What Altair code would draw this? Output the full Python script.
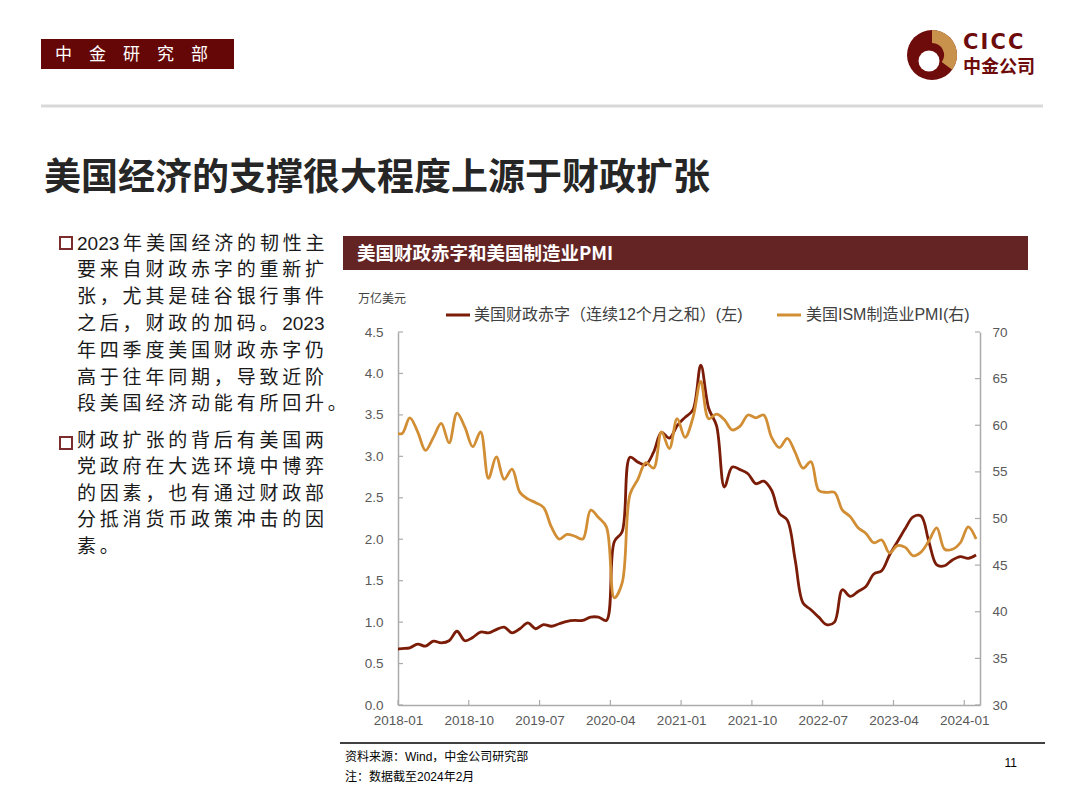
import altair as alt
import pandas as pd

# ---------------- data ----------------
months = ["2017-12"] + [f"{y}-{m:02d}" for y in range(2018, 2025) for m in range(1, 13)][:74]

deficit = [0.67,
           0.68, 0.69, 0.735, 0.71, 0.77, 0.75, 0.775, 0.89, 0.775, 0.815, 0.88, 0.87,
           0.91, 0.94, 0.87, 0.92, 0.99, 0.92, 0.97, 0.95, 0.98, 1.01, 1.02, 1.02,
           1.06, 1.06, 1.02, 1.97, 2.09, 2.99, 2.93, 2.90, 3.05, 3.29, 3.22, 3.37,
           3.47, 3.56, 4.10, 3.58, 3.37, 2.63, 2.87, 2.84, 2.79, 2.67, 2.70, 2.59,
           2.31, 2.23, 1.75, 1.23, 1.15, 1.06, 0.97, 1.00, 1.39, 1.31, 1.37, 1.43,
           1.58, 1.62, 1.81, 1.97, 2.13, 2.27, 2.28, 1.97, 1.69, 1.68, 1.75, 1.79,
           1.77, 1.81]

pmi = [59.3,
       59.1, 60.8, 59.3, 57.3, 58.7, 60.2, 58.1, 61.3, 59.8, 57.7, 59.3, 54.3,
       56.6, 54.2, 55.3, 52.8, 52.1, 51.7, 51.2, 49.1, 47.8, 48.3, 48.1, 47.8,
       50.9, 50.1, 49.1, 41.5, 43.1, 52.6, 54.2, 56.0, 55.4, 59.3, 57.5, 60.7,
       58.7, 60.8, 64.7, 60.7, 61.2, 60.6, 59.5, 59.9, 61.1, 60.8, 61.1, 58.7,
       57.6, 58.6, 57.1, 55.4, 56.1, 53.0, 52.8, 52.8, 50.9, 50.2, 49.0, 48.4,
       47.4, 47.7, 46.3, 47.1, 46.9, 46.0, 46.4, 47.6, 49.0, 46.7, 46.7, 47.4,
       49.1, 47.8]

tick_labels = ["2018-01", "2018-10", "2019-07", "2020-04", "2021-01",
               "2021-10", "2022-07", "2023-04", "2024-01"]
left_ticks = [0.0, 0.5, 1.0, 1.5, 2.0, 2.5, 3.0, 3.5, 4.0, 4.5]
right_ticks = [30, 35, 40, 45, 50, 55, 60, 65, 70]

series_names = ["美国财政赤字（连续12个月之和）(左)", "美国ISM制造业PMI(右)"]
unit_label = "万亿美元"
panel_title = "美国财政赤字和美国制造业PMI"
slide_title = "美国经济的支撑很大程度上源于财政扩张"
header_label = "中\u3000金\u3000研\u3000究\u3000部"
bullet1 = ["2023年美国经济的韧性主", "要来自财政赤字的重新扩", "张，尤其是硅谷银行事件",
           "之后，财政的加码。2023", "年四季度美国财政赤字仍", "高于往年同期，导致近阶",
           "段美国经济动能有所回升。"]
bullet2 = ["财政扩张的背后有美国两", "党政府在大选环境中博弈", "的因素，也有通过财政部",
           "分抵消货币政策冲击的因", "素。"]
source_note = "资料来源：Wind，中金公司研究部"
date_note = "注：数据截至2024年2月"
page_no = "11"

# ---------------- helpers ----------------
def month_pos(s):
    y, m = s.split("-")
    return (int(y) - 2018) * 12 + int(m) - 1 + 0.5

def tick_pos(s):
    y, m = s.split("-")
    return (int(y) - 2018) * 12 + int(m) - 1

def spaced(s):
    out = ""
    for i, ch in enumerate(s):
        out += ch
        if i < len(s) - 1 and not (ch.isascii() and s[i + 1].isascii()):
            out += "\u2009"
    return out

df = pd.DataFrame({"month": months, "t": [month_pos(s) for s in months],
                   "deficit": deficit, "pmi": pmi})
xt = pd.DataFrame({"t": [tick_pos(s) for s in tick_labels]})
lt = pd.DataFrame({"v": left_ticks})
rt = pd.DataFrame({"v": right_ticks})
one = pd.DataFrame({"k": [0]})

W, H = 582, 373
OX, OY = 398, 332
def px(x): return x - OX
def py(y): return y - OY

FONT = "Liberation Sans, Noto Sans CJK SC, sans-serif"
CJK = "Noto Sans CJK SC, Liberation Sans, sans-serif"
RED = "#7A1C07"
GOLD = "#D18E34"
AXIS_GREY = "#ABABAB"
LABEL_GREY = "#595959"

label_expr = "[" + ",".join(f"'{s}'" for s in tick_labels) + "][round(datum.value/9)]"
xscale = alt.Scale(domain=[0, 74], nice=False, zero=False)
xaxis = alt.Axis(values=[tick_pos(s) for s in tick_labels], labelExpr=label_expr,
                 title=None, grid=False, tickSize=0, domainColor=AXIS_GREY,
                 domainWidth=1.5, labelFont=FONT, labelFontSize=13.5,
                 labelColor=LABEL_GREY, labelPadding=8, labelOverlap=False,
                 labelFlush=False, labelBound=False)
x_enc = alt.X("t:Q", scale=xscale, axis=xaxis)

lscale = alt.Scale(domain=[0, 4.5], nice=False, zero=False)
rscale = alt.Scale(domain=[30, 70], nice=False, zero=False)

deficit_line = alt.Chart(df).mark_line(
    color=RED, strokeWidth=2.8, interpolate="catmull-rom", clip=True
).encode(
    x=x_enc,
    y=alt.Y("deficit:Q", scale=lscale,
            axis=alt.Axis(orient="left", values=left_ticks, format=".1f", title=None,
                          grid=False, tickSize=0, domainColor=AXIS_GREY, domainWidth=1.5,
                          labelFont=FONT, labelFontSize=13.5, labelColor=LABEL_GREY,
                          labelPadding=15, labelOverlap=False, labelFlush=False))
)

pmi_line = alt.Chart(df).mark_line(
    color=GOLD, strokeWidth=2.8, interpolate="catmull-rom", clip=True
).encode(
    x=x_enc,
    y=alt.Y("pmi:Q", scale=rscale,
            axis=alt.Axis(orient="right", values=right_ticks, format="d", title=None,
                          grid=False, tickSize=0, domainColor=AXIS_GREY, domainWidth=1.5,
                          labelFont=FONT, labelFontSize=13.5, labelColor=LABEL_GREY,
                          labelPadding=12, labelOverlap=False, labelFlush=False))
)

# inward ticks
x_ticks = alt.Chart(xt).mark_rule(color=AXIS_GREY, strokeWidth=1.2).encode(
    x=x_enc, y=alt.value(H), y2=alt.value(H - 5))
l_ticks = alt.Chart(lt).mark_rule(color=AXIS_GREY, strokeWidth=1.2).encode(
    y=alt.Y("v:Q", scale=lscale, axis=None), x=alt.value(0), x2=alt.value(5))
r_ticks = alt.Chart(rt).mark_rule(color=AXIS_GREY, strokeWidth=1.2).encode(
    y=alt.Y("v:Q", scale=rscale, axis=None), x=alt.value(W - 5), x2=alt.value(W))

def rect(x1, y1, x2, y2, fill, stroke=None, sw=0):
    kw = dict(fill=fill)
    if stroke:
        kw.update(stroke=stroke, strokeWidth=sw)
    return alt.Chart(one).mark_rect(**kw).encode(
        x=alt.value(px(x1)), x2=alt.value(px(x2)), y=alt.value(py(y1)), y2=alt.value(py(y2)))

def hline(x1, x2, y, color, sw):
    return alt.Chart(one).mark_rule(color=color, strokeWidth=sw).encode(
        x=alt.value(px(x1)), x2=alt.value(px(x2)), y=alt.value(py(y)))

def text(x, y, s, size, color="#000000", bold=False, font=FONT, align="left",
         baseline="middle", line_height=None):
    kw = dict(fontSize=size, color=color, font=font, align=align, baseline=baseline,
              fontWeight="bold" if bold else "normal")
    if line_height:
        kw["lineHeight"] = line_height
    return alt.Chart(one).mark_text(**kw).encode(
        x=alt.value(px(x)), y=alt.value(py(y)), text=alt.value(s))

def arc(cx, cy, r1, r0, t0, t1, color):
    return alt.Chart(one).mark_arc(radius=r1, radius2=r0, theta=t0, theta2=t1,
                                   color=color).encode(
        x=alt.value(px(cx)), y=alt.value(py(cy)))

deco = [
    # header
    rect(41, 39, 234, 69, "#660707"),
    text(55, 54.5, header_label, 17, "#FFFFFF", font=CJK),
    # logo
    arc(932, 55, 25, 0, 0, 6.2832, "#6E0B0B"),
    arc(932, 55, 25, 12, 0.0, 2.2, "#C8924D"),
    arc(929, 61, 10.5, 0, 0, 6.2832, "#FFFFFF"),
    text(963, 43, "C\u200aI\u200aC\u200aC", 21, "#6E0B0B", bold=True,
         font="DejaVu Sans, Liberation Sans"),
    text(963, 68, "中金公司", 18, "#6E0B0B", bold=True, font=CJK),
    hline(41, 1043, 106, "#D9D9D9", 3),
    # slide title
    text(44, 179, slide_title, 37, "#262626", bold=True, font=CJK),
    # bullets
    rect(60, 237, 72, 249, "#FFFFFF", "#7B2C2C", 2),
    rect(60, 437, 72, 449, "#FFFFFF", "#7B2C2C", 2),
    text(77, 234.5, [spaced(s) for s in bullet1], 19, "#1A1A1A", baseline="top",
         line_height=26.8),
    text(77, 431.5, [spaced(s) for s in bullet2], 19, "#1A1A1A", baseline="top",
         line_height=26.5),
    # chart panel header
    rect(343, 236, 1028, 270, "#632423"),
    text(357, 253.5, panel_title, 18.5, "#FFFFFF", bold=True, font=CJK),
    text(358, 299, unit_label, 12, "#404040", font=CJK),
    # legend
    hline(446, 470, 315, RED, 3),
    text(474, 315, series_names[0], 16, "#404040"),
    hline(777, 801, 315, GOLD, 3),
    text(806, 315, series_names[1], 16, "#404040"),
    # footer
    hline(340, 1045, 743, "#000000", 1.5),
    text(345, 757, source_note, 12, "#000000"),
    text(345, 777, date_note, 12, "#000000"),
    text(1017, 763, page_no, 12, "#000000", align="right"),
]

chart = alt.layer(
    deficit_line, pmi_line, x_ticks, l_ticks, r_ticks, *deco
).resolve_scale(y="independent").properties(
    width=W, height=H,
    autosize=alt.AutoSizeParams(type="none"),
    padding={"left": OX, "top": OY, "right": 1080 - OX - W, "bottom": 808 - OY - H},
    background="#FFFFFF",
).configure_view(stroke=None)

chart.save("out.html", embed_options={"renderer": "svg", "actions": False})
